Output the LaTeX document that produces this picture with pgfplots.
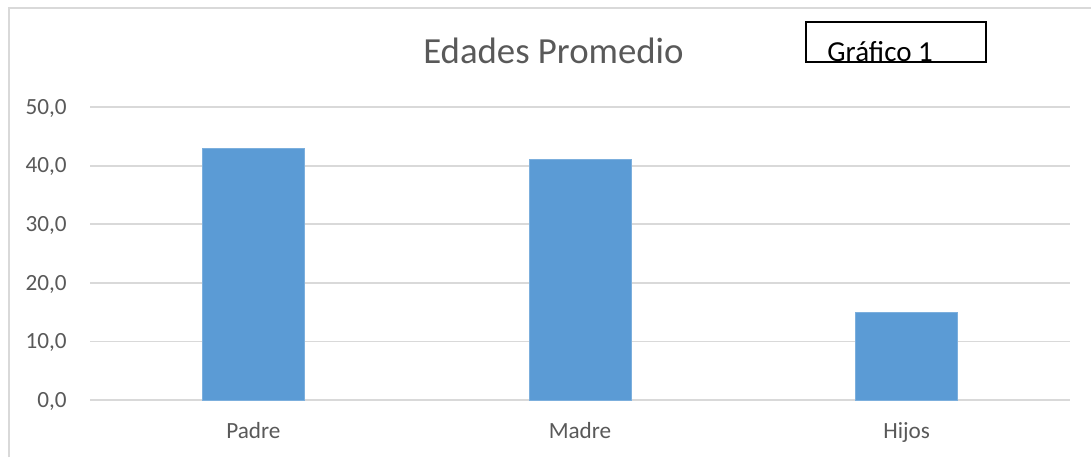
\documentclass[border=0pt]{standalone}
\usepackage{fontspec}
\setmainfont{Carlito}
\usepackage{pgfplots}
\pgfplotsset{compat=1.18}
\definecolor{barblue}{HTML}{5B9BD5}
\definecolor{gridgray}{HTML}{D9D9D9}
\definecolor{txtgray}{HTML}{595959}

\begin{document}
\begin{tikzpicture}
    % page frame (1 px = 0.5pt)
    \path[use as bounding box] (0,0) rectangle (545.5pt,228.5pt);
    \draw[gridgray, line width=1pt] (4.25pt,0) -- (4.25pt,224.5pt) -- (545.5pt,224.5pt);

    \begin{axis}[
        at={(45pt,28.5pt)}, anchor=south west,
        scale only axis,
        width=490pt, height=146.5pt,
        ybar, bar width=51pt,
        xmin=-0.5, xmax=2.5,
        ymin=0, ymax=50,
        xtick=data,
        xticklabels={Padre, Madre, Hijos},
        ytick={0,10,...,50},
        ymajorgrids,
        grid style={gridgray, line width=0.9pt},
        axis line style={draw=none},
        major tick length=0pt,
        tick label style={font=\fontsize{11.6}{13}\selectfont, text=txtgray},
        yticklabel style={anchor=base east, inner sep=0pt, xshift=-11.5pt, yshift=-3.6pt,
            /pgf/number format/.cd, fixed, fixed zerofill, precision=1, use comma, assume math mode=true},
        xticklabel style={anchor=base, inner sep=0pt, yshift=-19pt},
        clip=false,
    ]
        \addplot[fill=barblue, draw=barblue!80!white] coordinates {(0,43.0) (1,41.1) (2,15.0)};
    \end{axis}

    % title
    \node[anchor=base, inner sep=0pt, text=txtgray, font=\fontsize{18.4}{21}\selectfont] at (276.7pt,197pt) {Edades Promedio};

    % text box
    \draw[black, line width=1pt] (403pt,197.5pt) rectangle (493pt,217.5pt);
    \node[anchor=base west, inner sep=0pt, font=\fontsize{14.5}{17}\selectfont] at (413.5pt,197.8pt) {Gráfico 1};
\end{tikzpicture}
\end{document}
